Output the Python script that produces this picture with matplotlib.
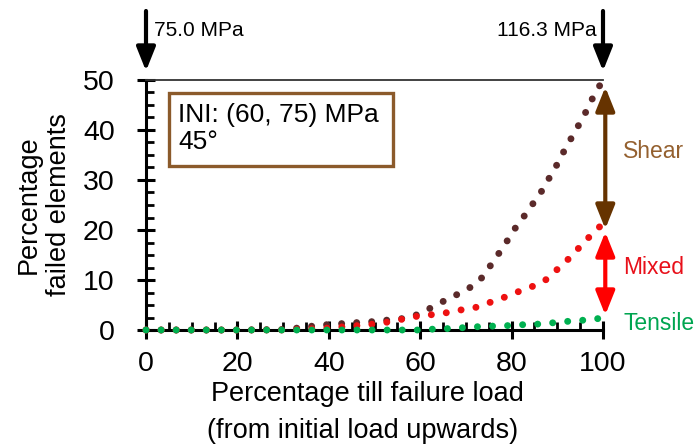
import matplotlib
matplotlib.use("Agg")
import matplotlib.pyplot as plt
from matplotlib.patches import Rectangle

plt.rcParams['font.family'] = ['Liberation Sans', 'DejaVu Sans']

# ---- data ----
x_shear = [0, 20, 30, 33.3, 36.6, 40, 43.2, 46.5, 50, 53, 56.3, 59.5, 62.5, 65.4, 68.3,
           71.3, 73.8, 75.6, 77.5, 79.3, 81.1, 83.1, 85.0, 86.9, 88.6, 90.2, 91.7,
           93.4, 95.0, 96.6, 98.0, 100]
y_shear = [0, 0, 0.1, 0.4, 0.8, 1.1, 1.3, 1.5, 1.7, 2.0, 2.3, 3.1, 4.5, 5.9, 7.2,
           8.7, 10.7, 13.2, 15.7, 18.2, 20.8, 23.2, 25.7, 28.2, 31.0, 33.5, 36.2,
           38.9, 41.5, 44.2, 46.9, 50.0]

x_mixed = [0, 30, 40, 46.5, 50, 53, 56.3, 59.6, 62.9, 66.1, 69.4, 72.6, 75.8, 78.9,
           82.1, 85.1, 88.0, 90.4, 92.8, 95.1, 97.4, 100]
y_mixed = [0, 0, 0.4, 0.9, 1.2, 1.6, 2.2, 2.8, 3.1, 3.5, 4.1, 4.6, 5.7, 6.7,
           7.9, 8.9, 10.3, 12.5, 14.5, 16.8, 19.0, 21.3]

x_tensile = [0, 60, 63.2, 66.5, 70, 73.2, 76.5, 79.9, 83.1, 86.4, 89.7, 93.1, 96.4, 100]
y_tensile = [0, 0, 0.2, 0.3, 0.5, 0.7, 0.8, 0.9, 1.1, 1.2, 1.5, 1.8, 2.0, 2.4]

x_ticks = [0, 20, 40, 60, 80, 100]
y_ticks = [0, 10, 20, 30, 40, 50]
load_start = "75.0 MPa"
load_end = "116.3 MPa"
box_text = "INI: (60, 75) MPa\n45°"
labels = ["Shear", "Mixed", "Tensile"]

# ---- figure ----
W, H = 697, 448
fig = plt.figure(figsize=(W / 100, H / 100), dpi=100)
ax = fig.add_axes([146 / W, 1 - 330 / H, 457 / W, 250 / H])
ax.set_xlim(0, 100)
ax.set_ylim(0, 50)

c_shear = '#5B2A2A'
c_mixed = '#EE1111'
c_tens = '#00B050'
dot_lw = 5.0
dot_ls = (0, (0.01, 2.16))
for xs, ys, c in [(x_shear, y_shear, c_shear), (x_mixed, y_mixed, c_mixed),
                  (x_tensile, y_tensile, c_tens)]:
    ax.plot(xs, ys, color=c, lw=dot_lw, linestyle=dot_ls,
            dash_capstyle='round', clip_on=False, zorder=3)

# spines
ax.spines['right'].set_visible(False)
ax.spines['left'].set_linewidth(2.2)
ax.spines['bottom'].set_linewidth(2.2)
ax.spines['top'].set_linewidth(1.3)
ax.spines['top'].set_color('#333333')

ax.set_xticks(x_ticks)
ax.set_yticks(y_ticks)
ax.set_xticks([v for v in range(0, 101, 5) if v % 20], minor=True)
ax.set_yticks([v * 2.5 for v in range(0, 21) if (v * 2.5) % 10], minor=True)
ax.tick_params(which='major', direction='inout', length=13, width=2.2, labelsize=20.5)
ax.tick_params(which='minor', direction='in', length=6, width=2)
ax.tick_params(axis='y', which='major', pad=16)
ax.tick_params(axis='x', which='major', pad=8.5)
ax.tick_params(top=False, right=False, which='both')

# axis labels
fig.text(44 / W, 1 - 205 / H, "Percentage\nfailed elements", rotation=90,
         ha='center', va='center', fontsize=19.5, linespacing=1.2,
         multialignment='center')
fig.text(367 / W, 1 - 394 / H, "Percentage till failure load", ha='center',
         va='center', fontsize=19.5)
fig.text(363 / W, 1 - 431 / H, "(from initial load upwards)", ha='center',
         va='center', fontsize=19.5)

# top arrows
aprops = dict(arrowstyle='-|>,head_length=0.8,head_width=0.32', color='black',
              lw=3, mutation_scale=18, shrinkA=0, shrinkB=0)
for xv in [0, 100]:
    ax.annotate('', xy=(xv, H - 71), xycoords=('data', 'figure pixels'),
                xytext=(xv, H - 11), textcoords=('data', 'figure pixels'),
                arrowprops=aprops, annotation_clip=False)
fig.text(154 / W, 1 - 31 / H, load_start, ha='left', va='center', fontsize=15)
fig.text(597 / W, 1 - 31 / H, load_end, ha='right', va='center', fontsize=15)

# text box
ax.add_patch(Rectangle((5, 32.8), 49, 14.6, fill=False, edgecolor='#8B5A2B',
                       lw=2.4, zorder=4))
ax.text(7, 40.3, box_text, ha='left', va='center', fontsize=19,
        linespacing=1.15, zorder=5)

# right side arrows
ax.annotate('', xy=(100.5, 20.2), xytext=(100.5, 48.6),
            arrowprops=dict(arrowstyle='<|-|>,head_length=0.8,head_width=0.32',
                            color='#663300', lw=3, mutation_scale=18,
                            shrinkA=0, shrinkB=0), annotation_clip=False)
ax.annotate('', xy=(100.5, 3.0), xytext=(100.5, 19.6),
            arrowprops=dict(arrowstyle='<|-|>,head_length=0.8,head_width=0.32',
                            color='#FF0000', lw=3, mutation_scale=18,
                            shrinkA=0, shrinkB=0), annotation_clip=False)

fig.text(623 / W, 1 - 151 / H, labels[0], ha='left', va='center', fontsize=16.5,
         color='#94602F')
fig.text(623 / W, 1 - 268 / H, labels[1], ha='left', va='center', fontsize=16.5,
         color='#E8101A')
fig.text(623 / W, 1 - 323 / H, labels[2], ha='left', va='center', fontsize=16.5,
         color='#00A550')

fig.savefig('out.png', dpi=100)
